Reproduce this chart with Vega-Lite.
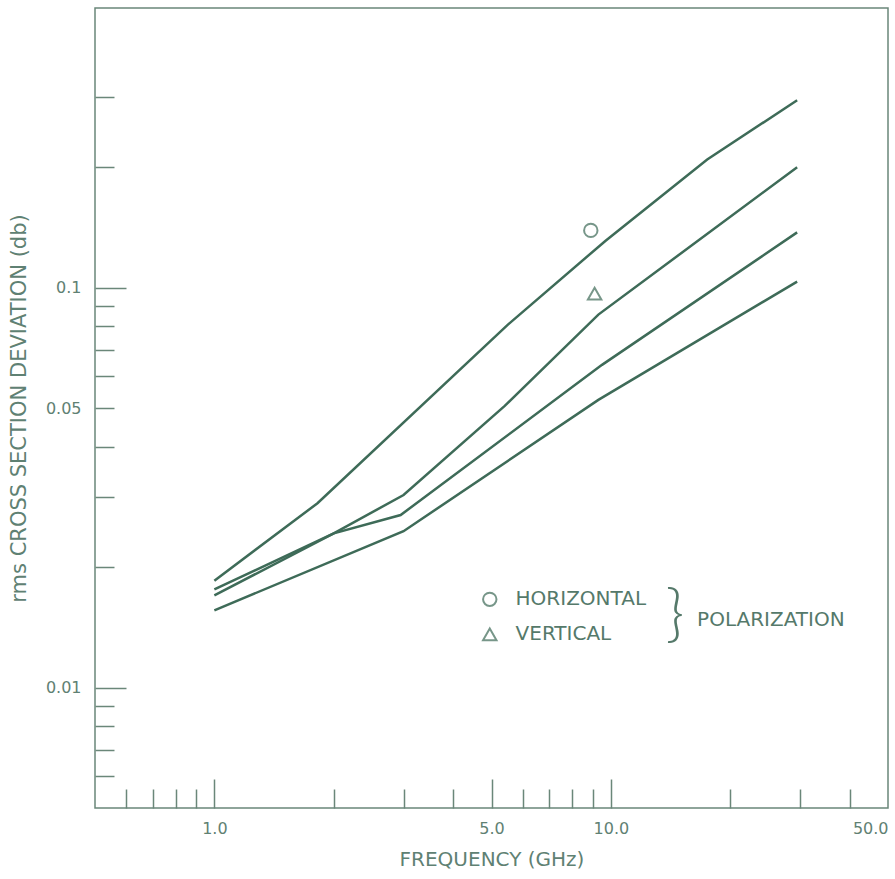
{
  "$schema": "https://vega.github.io/schema/vega-lite/v6.json",
  "width": 793,
  "height": 800,
  "autosize": {"type": "none"},
  "padding": {"left": 95, "top": 8, "right": 7, "bottom": 71},
  "background": "white",
  "config": {
    "view": {"stroke": "#6a8779", "strokeWidth": 1.5},
    "axis": {
      "grid": false,
      "domain": false,
      "tickColor": "#6a8779",
      "tickWidth": 1.5,
      "labelColor": "#5f8173",
      "labelFont": "DejaVu Sans",
      "labelFontSize": 16,
      "titleColor": "#5f8173",
      "titleFont": "DejaVu Sans",
      "titleFontWeight": "normal",
      "titleFontSize": 20
    }
  },
  "datasets": {
    "lines": [
      {"curve": "A", "f": 1.0, "v": 0.0185},
      {"curve": "A", "f": 1.82, "v": 0.0289},
      {"curve": "A", "f": 5.5, "v": 0.0808},
      {"curve": "A", "f": 9.7, "v": 0.131},
      {"curve": "A", "f": 17.5, "v": 0.209},
      {"curve": "A", "f": 29.5, "v": 0.294},
      {"curve": "B", "f": 1.0, "v": 0.0176},
      {"curve": "B", "f": 2.0, "v": 0.0243},
      {"curve": "B", "f": 3.0, "v": 0.0303},
      {"curve": "B", "f": 5.4, "v": 0.0506},
      {"curve": "B", "f": 9.3, "v": 0.0856},
      {"curve": "B", "f": 29.5, "v": 0.2},
      {"curve": "C", "f": 1.0, "v": 0.017},
      {"curve": "C", "f": 2.0, "v": 0.0243},
      {"curve": "C", "f": 2.95, "v": 0.027},
      {"curve": "C", "f": 9.5, "v": 0.0641},
      {"curve": "C", "f": 29.5, "v": 0.1374},
      {"curve": "D", "f": 1.0, "v": 0.0156},
      {"curve": "D", "f": 3.0, "v": 0.0246},
      {"curve": "D", "f": 9.3, "v": 0.0524},
      {"curve": "D", "f": 29.5, "v": 0.1035}
    ],
    "markers": [
      {"pol": "HORIZONTAL", "f": 8.9, "v": 0.139},
      {"pol": "VERTICAL", "f": 9.1, "v": 0.0966},
      {"pol": "HORIZONTAL", "f": 4.95, "v": 0.01662},
      {"pol": "VERTICAL", "f": 4.95, "v": 0.01358}
    ],
    "notes": [
      {"t": "HORIZONTAL", "f": 5.75, "v": 0.01662},
      {"t": "VERTICAL", "f": 5.75, "v": 0.01358},
      {"t": "POLARIZATION", "f": 16.5, "v": 0.01479}
    ],
    "brace": [
      {"t": "}", "f": 14.5, "v": 0.0151}
    ]
  },
  "layer": [
    {
      "data": {"name": "lines"},
      "mark": {"type": "line", "strokeWidth": 2.5, "color": "#3e6b58"},
      "encoding": {
        "x": {
          "field": "f", "type": "quantitative",
          "scale": {"type": "log", "domain": [0.5, 50], "nice": false},
          "axis": {"orient": "bottom", "values": [1, 5, 10, 50], "format": ".1f", "ticks": false, "labelFlush": true, "labelPadding": 12, "title": "FREQUENCY (GHz)", "titlePadding": 13}
        },
        "y": {
          "field": "v", "type": "quantitative",
          "scale": {"type": "log", "domain": [0.005, 0.5], "nice": false},
          "axis": {"orient": "left", "values": [0.01, 0.05, 0.1], "format": "~g", "ticks": false, "labelPadding": 14, "labelFlush": false, "title": "rms CROSS SECTION DEVIATION (db)", "titleFontSize": 21, "titlePadding": 16}
        },
        "detail": {"field": "curve", "type": "nominal"}
      }
    },
    {
      "data": {"name": "markers"},
      "mark": {"type": "point", "filled": false, "strokeWidth": 2, "size": 180, "color": "#3e6b58"},
      "encoding": {
        "x": {
          "field": "f", "type": "quantitative",
          "scale": {"type": "log", "domain": [0.5, 50], "nice": false},
          "axis": {"orient": "bottom", "values": [1, 5, 10], "labels": false, "ticks": true, "tickSize": -29, "title": null}
        },
        "y": {
          "field": "v", "type": "quantitative",
          "scale": {"type": "log", "domain": [0.005, 0.5], "nice": false},
          "axis": {"orient": "left", "values": [0.01, 0.1], "labels": false, "ticks": true, "tickSize": -31, "title": null}
        },
        "shape": {
          "field": "pol", "type": "nominal",
          "scale": {"domain": ["HORIZONTAL", "VERTICAL"], "range": ["circle", "triangle-up"]},
          "legend": null
        }
      }
    },
    {
      "data": {"name": "notes"},
      "mark": {"type": "text", "align": "left", "baseline": "middle", "font": "DejaVu Sans", "fontSize": 20, "color": "#55796a"},
      "encoding": {
        "x": {
          "field": "f", "type": "quantitative",
          "scale": {"type": "log", "domain": [0.5, 50], "nice": false},
          "axis": {"orient": "bottom", "values": [0.6, 0.7, 0.8, 0.9, 2, 3, 4, 6, 7, 8, 9, 20, 30, 40], "labels": false, "ticks": true, "tickSize": -19, "title": null}
        },
        "y": {
          "field": "v", "type": "quantitative",
          "scale": {"type": "log", "domain": [0.005, 0.5], "nice": false},
          "axis": {"orient": "left", "values": [0.006, 0.007, 0.008, 0.009, 0.02, 0.03, 0.04, 0.05, 0.06, 0.07, 0.08, 0.09, 0.2, 0.3], "labels": false, "ticks": true, "tickSize": -19, "title": null}
        },
        "text": {"field": "t", "type": "nominal"}
      }
    },
    {
      "data": {"name": "brace"},
      "mark": {"type": "text", "align": "center", "baseline": "middle", "font": "Lato", "fontWeight": 300, "fontSize": 64, "color": "#55796a"},
      "encoding": {
        "x": {"field": "f", "type": "quantitative", "scale": {"type": "log", "domain": [0.5, 50], "nice": false}, "axis": null},
        "y": {"field": "v", "type": "quantitative", "scale": {"type": "log", "domain": [0.005, 0.5], "nice": false}, "axis": null},
        "text": {"field": "t", "type": "nominal"}
      }
    }
  ],
  "resolve": {"axis": {"x": "independent", "y": "independent"}}
}
